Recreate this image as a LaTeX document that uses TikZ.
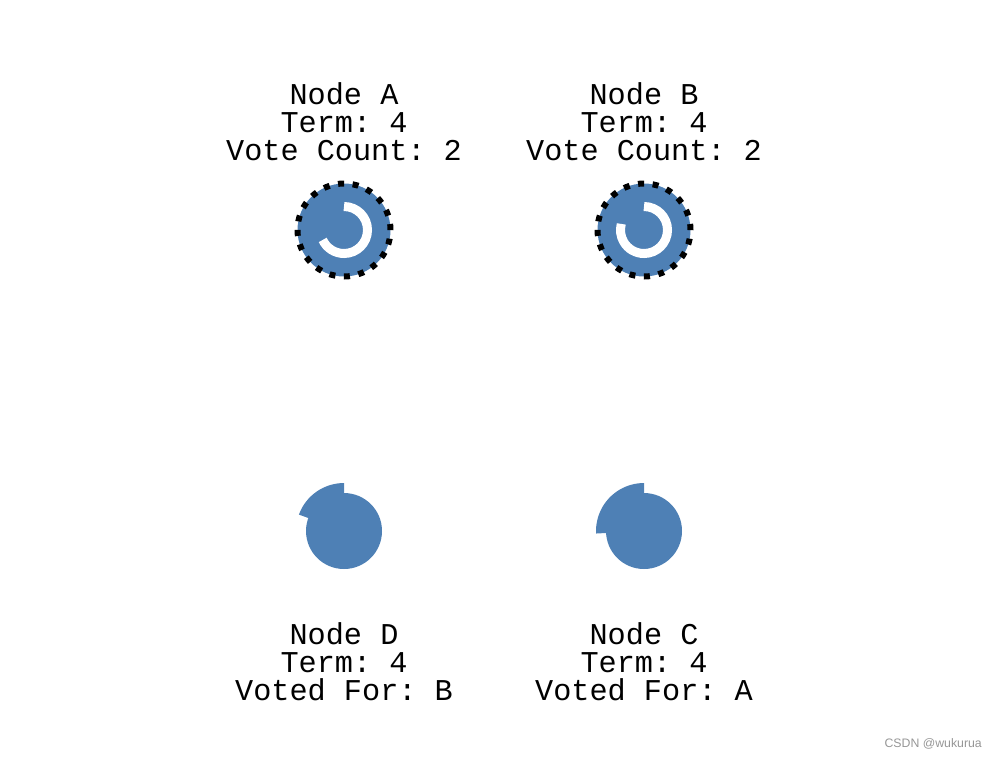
\documentclass[tikz,border=0pt]{standalone}
\usepackage{fontspec}
\setmonofont{Liberation Mono}
\setsansfont{Liberation Sans}
\usetikzlibrary{calc}
\definecolor{raftblue}{RGB}{78,128,181}
\definecolor{markgray}{RGB}{150,150,150}
\tikzset{
  lbl/.style={align=center,font=\ttfamily\fontsize{17.2}{15.9}\selectfont},
  cand/.style={circle,fill=raftblue,draw=black,minimum size=1.86cm,inner sep=0pt,
               line width=0.12cm,dash pattern=on 0.12cm off 0.172cm},
  foll/.style={circle,fill=raftblue,minimum size=1.52cm,inner sep=0pt},
  votes/.style={white,line width=0.18cm},
}
\begin{document}
\begin{tikzpicture}[x=0.02cm,y=-0.02cm]
  \useasboundingbox (0,0) rectangle (999,758);

  % candidates
  \node[cand] (a) at (344,230) {};
  \node[cand] (b) at (644,230) {};
  \node[lbl] (alabel) at (344,122) {Node A\\Term: 4\\Vote Count: 2};
  \node[lbl] (blabel) at (644,122) {Node B\\Term: 4\\Vote Count: 2};
  \draw[votes] ($(a.center)+(90:0.47cm)$) arc[start angle=90,end angle=-155,radius=0.47cm];
  \draw[votes] ($(b.center)+(90:0.47cm)$) arc[start angle=90,end angle=-195,radius=0.47cm];

  % followers
  \foreach \name/\x/\ang in {d/344/160, c/644/183}{
    \node[foll] (\name) at (\x,531) {};
    \fill[raftblue] (\name.center) -- ++(90:0.96cm)
      arc[start angle=90,end angle=\ang,radius=0.96cm] -- cycle;
  }
  \node[lbl] (dlabel) at (344,662) {Node D\\Term: 4\\Voted For: B};
  \node[lbl] (clabel) at (644,662) {Node C\\Term: 4\\Voted For: A};

  \node[anchor=east,text=markgray,font=\sffamily\fontsize{7}{8}\selectfont]
    (mark) at (988,744) {CSDN @wukurua};
\end{tikzpicture}
\end{document}
